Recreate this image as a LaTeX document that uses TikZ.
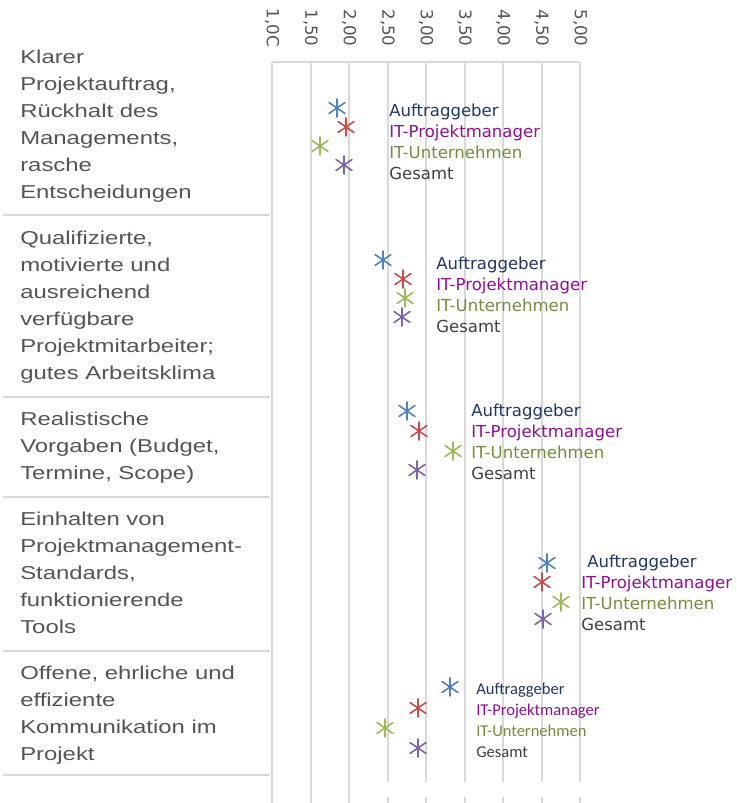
\documentclass[tikz,border=0pt]{standalone}
\usepackage{fontspec}
\setmainfont{DejaVu Sans}
\newfontfamily\catfont[FakeStretch=1.28]{Liberation Sans}
\newfontfamily\calfont{Carlito}
\usetikzlibrary{positioning}

\definecolor{gridgray}{HTML}{D9D9D9}
\definecolor{txtgray}{HTML}{545454}
\definecolor{auftr}{HTML}{1F3864}
\definecolor{itpm}{HTML}{8E108E}
\definecolor{itunt}{HTML}{6F8F3A}
\definecolor{ges}{HTML}{404040}
\definecolor{mblue}{HTML}{4F81BD}
\definecolor{mred}{HTML}{C0504D}
\definecolor{mgreen}{HTML}{9BBB59}
\definecolor{mpurple}{HTML}{8064A2}

\tikzset{
  grid line/.style={draw=gridgray, line width=1.5pt},
  sep line/.style={draw=gridgray, line width=1.8pt},
  cat/.style={anchor=north west, align=left, text=txtgray, inner sep=0pt,
    font=\catfont\fontsize{14}{20.25}\selectfont},
  legend/.style={anchor=base west, inner sep=0pt},
  tick label/.style={rotate=-90, text=txtgray, inner sep=0pt,
    font=\fontsize{12.5}{14}\selectfont},
  mstar/.pic={\draw[line width=1.2pt, line cap=round]
    (0,-9) -- (0,9) (-8,-5.5) -- (8,5.5) (-8,5.5) -- (8,-5.5);},
}

\begin{document}
\begin{tikzpicture}[x=0.75pt, y=-0.75pt]
  \useasboundingbox (0,0) rectangle (737,803);

  % axis
  \foreach \i/\lab in {0/{1,0C}, 1/{1,50}, 2/{2,00}, 3/{2,50}, 4/{3,00},
                       5/{3,50}, 6/{4,00}, 7/{4,50}, 8/{5,00}} {
    \node[tick label] (t\i) at ({272+38.5*\i},28) {\lab};
    \ifnum\i<3
      \draw[grid line] ({272+38.5*\i},62) -- ({272+38.5*\i},803);
    \else
      \draw[grid line] ({272+38.5*\i},62) -- ({272+38.5*\i},782)
                       ({272+38.5*\i},797) -- ({272+38.5*\i},803);
    \fi
  }
  \draw[grid line] (272,62) -- (580,62);

  % separators
  \foreach \y in {215, 397, 497, 651, 775}
    \draw[sep line] (3,\y) -- (270,\y);

  % categories
  \node[cat] (c1) at (20,50) {Klarer\\Projektauftrag,\\R\"uckhalt des\\Managements,\\rasche\\Entscheidungen};
  \node[cat] (c2) at (20,231) {Qualifizierte,\\motivierte und\\ausreichend\\verf\"ugbare\\Projektmitarbeiter;\\gutes Arbeitsklima};
  \node[cat] (c3) at (20,412) {Realistische\\Vorgaben (Budget,\\Termine, Scope)};
  \node[cat] (c4) at (20,512) {Einhalten von\\Projektmanagement-\\Standards,\\funktionierende\\Tools};
  \node[cat] (c5) at (20,666) {Offene, ehrliche und\\effiziente\\Kommunikation im\\Projekt};

  % legends
  \foreach \k/\lx/\ly/\dx/\fnt in {1/389/116/0/{}, 2/436/269/0/{}, 3/471/416/0/{},
                                   4/581/567/6/{}, 5/476/694/0/\calfont} {
    \node[legend, text=auftr, font=\fnt\fontsize{12.4}{15}\selectfont] (auf\k) at ({\lx+\dx},\ly) {Auftraggeber};
    \node[legend, text=itpm, font=\fnt\fontsize{12.4}{15}\selectfont] (pm\k) at (\lx,{\ly+21}) {IT-Projektmanager};
    \node[legend, text=itunt, font=\fnt\fontsize{12.4}{15}\selectfont] (un\k) at (\lx,{\ly+42}) {IT-Unternehmen};
    \node[legend, text=ges, font=\fnt\fontsize{12.4}{15}\selectfont] (ge\k) at (\lx,{\ly+63}) {Gesamt};
  }

  % markers
  \foreach \c/\x/\y in {mblue/337/108, mred/346/127, mgreen/320/146, mpurple/344/165,
                        mblue/383/260, mred/403/279, mgreen/405/298, mpurple/402/317,
                        mblue/407/411, mred/419/431, mgreen/453/451, mpurple/417/470,
                        mblue/547/563, mred/542/582, mgreen/561/602, mpurple/543/619,
                        mblue/450/687, mred/418/708, mgreen/385/728, mpurple/418/748}
    \pic[\c] at (\x,\y) {mstar};
\end{tikzpicture}
\end{document}
